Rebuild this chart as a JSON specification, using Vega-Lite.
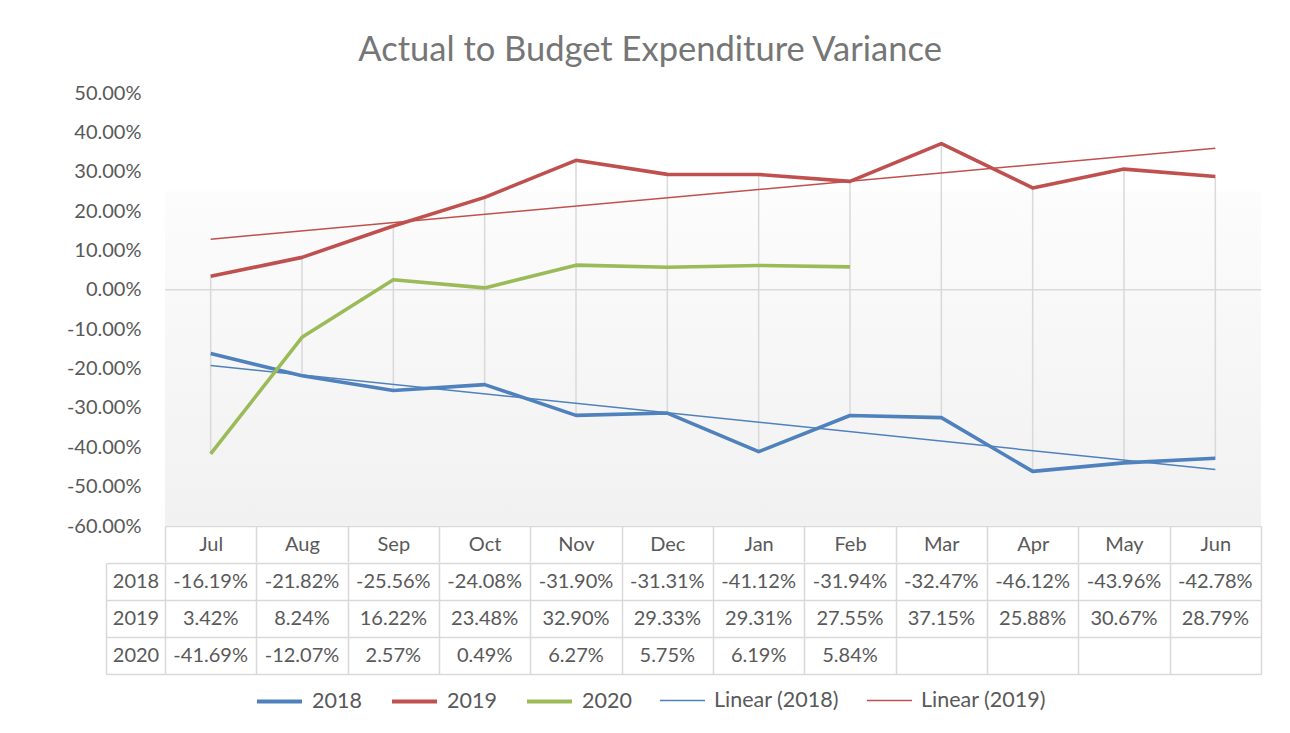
{
  "$schema": "https://vega.github.io/schema/vega-lite/v6.json",
  "background": "white",
  "padding": {"left": 66, "top": 32, "right": 28, "bottom": 10},
  "title": {"text": "Actual to Budget Expenditure Variance", "fontSize": 34.5, "font": "Lato", "fontWeight": "normal", "color": "#767676", "anchor": "middle", "offset": 15, "dx": -14},
  "config": {
    "view": {"stroke": null},
    "font": "Lato",
    "locale": {"number": {"decimal": ".", "thousands": ",", "grouping": [3], "currency": ["$", ""], "minus": "-"}},
    "axis": {"labelFont": "Lato", "labelColor": "#595959", "labelFontSize": 19},
    "axisQuantitative": {"labelOverlap": false},
    "legend": {"labelFont": "Lato", "labelColor": "#595959", "labelFontSize": 21.5}
  },
  "datasets": {
    "vals": [
      {"month": "Jul", "period": 1, "series": "2018", "value": -0.1619},
      {"month": "Aug", "period": 2, "series": "2018", "value": -0.2182},
      {"month": "Sep", "period": 3, "series": "2018", "value": -0.2556},
      {"month": "Oct", "period": 4, "series": "2018", "value": -0.2408},
      {"month": "Nov", "period": 5, "series": "2018", "value": -0.3190},
      {"month": "Dec", "period": 6, "series": "2018", "value": -0.3131},
      {"month": "Jan", "period": 7, "series": "2018", "value": -0.4112},
      {"month": "Feb", "period": 8, "series": "2018", "value": -0.3194},
      {"month": "Mar", "period": 9, "series": "2018", "value": -0.3247},
      {"month": "Apr", "period": 10, "series": "2018", "value": -0.4612},
      {"month": "May", "period": 11, "series": "2018", "value": -0.4396},
      {"month": "Jun", "period": 12, "series": "2018", "value": -0.4278},
      {"month": "Jul", "period": 1, "series": "2019", "value": 0.0342},
      {"month": "Aug", "period": 2, "series": "2019", "value": 0.0824},
      {"month": "Sep", "period": 3, "series": "2019", "value": 0.1622},
      {"month": "Oct", "period": 4, "series": "2019", "value": 0.2348},
      {"month": "Nov", "period": 5, "series": "2019", "value": 0.3290},
      {"month": "Dec", "period": 6, "series": "2019", "value": 0.2933},
      {"month": "Jan", "period": 7, "series": "2019", "value": 0.2931},
      {"month": "Feb", "period": 8, "series": "2019", "value": 0.2755},
      {"month": "Mar", "period": 9, "series": "2019", "value": 0.3715},
      {"month": "Apr", "period": 10, "series": "2019", "value": 0.2588},
      {"month": "May", "period": 11, "series": "2019", "value": 0.3067},
      {"month": "Jun", "period": 12, "series": "2019", "value": 0.2879},
      {"month": "Jul", "period": 1, "series": "2020", "value": -0.4169},
      {"month": "Aug", "period": 2, "series": "2020", "value": -0.1207},
      {"month": "Sep", "period": 3, "series": "2020", "value": 0.0257},
      {"month": "Oct", "period": 4, "series": "2020", "value": 0.0049},
      {"month": "Nov", "period": 5, "series": "2020", "value": 0.0627},
      {"month": "Dec", "period": 6, "series": "2020", "value": 0.0575},
      {"month": "Jan", "period": 7, "series": "2020", "value": 0.0619},
      {"month": "Feb", "period": 8, "series": "2020", "value": 0.0584}
    ],
    "months": [
      {"period": 1, "month": "Jul"}, {"period": 2, "month": "Aug"}, {"period": 3, "month": "Sep"},
      {"period": 4, "month": "Oct"}, {"period": 5, "month": "Nov"}, {"period": 6, "month": "Dec"},
      {"period": 7, "month": "Jan"}, {"period": 8, "month": "Feb"}, {"period": 9, "month": "Mar"},
      {"period": 10, "month": "Apr"}, {"period": 11, "month": "May"}, {"period": 12, "month": "Jun"}
    ]
  },
  "spacing": -12,
  "vconcat": [
    {
      "width": 1096,
      "height": 433,
      "layer": [
        {
          "data": {"values": [{}]},
          "mark": {"type": "rect", "fill": {"gradient": "linear", "x1": 0, "y1": 0, "x2": 0, "y2": 1, "stops": [{"offset": 0, "color": "#fcfcfc"}, {"offset": 1, "color": "#f1f1f1"}]}},
          "encoding": {
            "y": {
              "datum": 0.25, "type": "quantitative",
              "scale": {"domain": [-0.6, 0.5], "nice": false, "zero": false},
              "axis": {"title": null, "format": ".2%", "values": [-0.6, -0.5, -0.4, -0.3, -0.2, -0.1, 0, 0.1, 0.2, 0.3, 0.4, 0.5], "tickCount": 20, "labelOverlap": false, "labelBound": false, "labelFlush": false, "ticks": false, "domain": false, "grid": false, "labelPadding": 24, "labelFontSize": 20}
            },
            "y2": {"datum": -0.6}
          }
        },
        {
          "data": {"values": [{}]},
          "mark": {"type": "rule", "color": "#d9d9d9", "strokeWidth": 1.5},
          "encoding": {
            "y": {
              "datum": 0, "type": "quantitative",
              "axis": {"title": null, "format": ".2%", "values": [-0.6, -0.5, -0.4, -0.3, -0.2, -0.1, 0, 0.1, 0.2, 0.3, 0.4, 0.5], "tickCount": 20, "labelOverlap": false, "labelBound": false, "labelFlush": false, "ticks": false, "domain": false, "grid": false, "labelPadding": 24, "labelFontSize": 20}
            }
          }
        },
        {
          "data": {"name": "vals"},
          "mark": {"type": "rule", "color": "#d9d9d9", "strokeWidth": 1.5},
          "encoding": {
            "x": {"field": "month", "type": "ordinal"},
            "y": {
              "aggregate": "max", "field": "value", "type": "quantitative",
              "axis": {"title": null, "format": ".2%", "values": [-0.6, -0.5, -0.4, -0.3, -0.2, -0.1, 0, 0.1, 0.2, 0.3, 0.4, 0.5], "tickCount": 20, "labelOverlap": false, "labelBound": false, "labelFlush": false, "ticks": false, "domain": false, "grid": false, "labelPadding": 24, "labelFontSize": 20}
            },
            "y2": {"aggregate": "min", "field": "value"}
          }
        },
        {
          "data": {"name": "vals"},
          "transform": [
            {"filter": "datum.series != '2020'"},
            {"regression": "value", "on": "period", "groupby": ["series"]},
            {"calculate": "'Linear (' + datum.series + ')'", "as": "trend"},
            {"lookup": "period", "from": {"data": {"name": "months"}, "key": "period", "fields": ["month"]}},
            {"filter": "isValid(datum.month)"}
          ],
          "mark": {"type": "line", "strokeWidth": 1.5},
          "encoding": {
            "x": {"field": "month", "type": "ordinal"},
            "y": {
              "field": "value", "type": "quantitative",
              "axis": {"title": null, "format": ".2%", "values": [-0.6, -0.5, -0.4, -0.3, -0.2, -0.1, 0, 0.1, 0.2, 0.3, 0.4, 0.5], "tickCount": 20, "labelOverlap": false, "labelBound": false, "labelFlush": false, "ticks": false, "domain": false, "grid": false, "labelPadding": 24, "labelFontSize": 20}
            },
            "stroke": {
              "field": "trend", "type": "nominal",
              "scale": {"domain": ["Linear (2018)", "Linear (2019)"], "range": ["#4f81bd", "#c0504d"]},
              "legend": {"title": null, "orient": "none", "direction": "horizontal", "legendX": 494, "legendY": 584, "symbolType": "stroke", "symbolSize": 2025, "symbolStrokeWidth": 1.5, "labelOffset": 8, "columnPadding": 25}
            }
          }
        },
        {
          "data": {"name": "vals"},
          "mark": {"type": "line", "strokeWidth": 3.6, "strokeJoin": "round", "strokeCap": "butt"},
          "encoding": {
            "x": {
              "field": "month", "type": "ordinal",
              "scale": {"type": "band", "paddingInner": 0, "paddingOuter": 0, "domain": ["Jul", "Aug", "Sep", "Oct", "Nov", "Dec", "Jan", "Feb", "Mar", "Apr", "May", "Jun"]},
              "axis": {"title": null, "orient": "bottom", "tickBand": "extent", "tickSize": 36, "tickColor": "#d9d9d9", "tickWidth": 1.5, "domainColor": "#d9d9d9", "domainWidth": 1.5, "labelPadding": -18, "labelBaseline": "middle", "labelAlign": "center", "labelAngle": 0, "labelFontSize": 20, "grid": false}
            },
            "y": {
              "field": "value", "type": "quantitative",
              "axis": {"title": null, "format": ".2%", "values": [-0.6, -0.5, -0.4, -0.3, -0.2, -0.1, 0, 0.1, 0.2, 0.3, 0.4, 0.5], "tickCount": 20, "labelOverlap": false, "labelBound": false, "labelFlush": false, "ticks": false, "domain": false, "grid": false, "labelPadding": 24, "labelFontSize": 20}
            },
            "color": {
              "field": "series", "type": "nominal",
              "scale": {"domain": ["2018", "2019", "2020"], "range": ["#4f81bd", "#c0504d", "#9bbb59"]},
              "legend": {"title": null, "orient": "none", "direction": "horizontal", "legendX": 90, "legendY": 584, "symbolType": "stroke", "symbolSize": 2025, "symbolStrokeWidth": 4, "labelOffset": 8, "columnPadding": 22}
            }
          }
        }
      ]
    },
    {
      "width": 1096,
      "height": 111,
      "data": {"name": "vals"},
      "mark": {"type": "text", "font": "Lato", "fontSize": 20, "color": "#595959", "baseline": "middle", "align": "center"},
      "encoding": {
        "x": {
          "field": "month", "type": "ordinal",
          "scale": {"type": "band", "paddingInner": 0, "paddingOuter": 0, "domain": ["Jul", "Aug", "Sep", "Oct", "Nov", "Dec", "Jan", "Feb", "Mar", "Apr", "May", "Jun"]},
          "axis": {"title": null, "labels": false, "ticks": false, "domain": false, "grid": true, "tickBand": "extent", "gridColor": "#d9d9d9", "gridWidth": 1.5}
        },
        "y": {
          "field": "series", "type": "ordinal",
          "scale": {"type": "band", "paddingInner": 0, "paddingOuter": 0, "domain": ["2018", "2019", "2020"]},
          "axis": {"title": null, "orient": "left", "offset": 59, "tickSize": -59, "tickBand": "extent", "tickColor": "#d9d9d9", "tickWidth": 1.5, "domainColor": "#d9d9d9", "domainWidth": 1.5, "labelPadding": 29.5, "labelAlign": "center", "labelBaseline": "middle", "grid": true, "gridColor": "#d9d9d9", "gridWidth": 1.5, "labelFontSize": 20}
        },
        "text": {"field": "value", "type": "quantitative", "format": ".2%"}
      }
    }
  ]
}
